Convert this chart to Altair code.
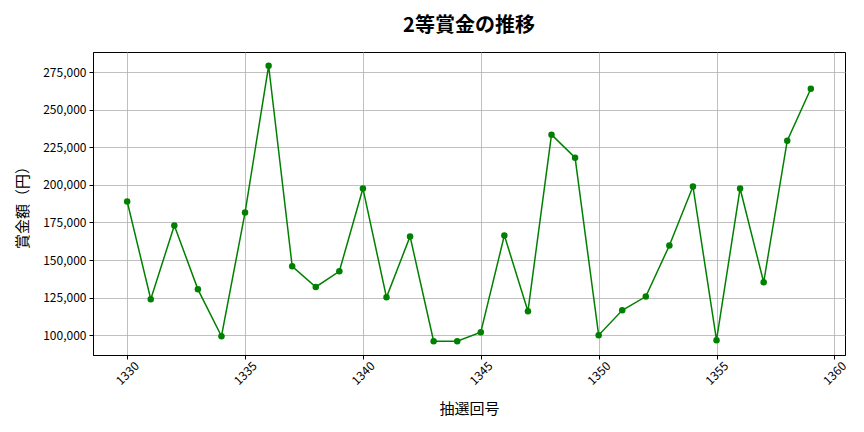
import altair as alt
import pandas as pd

draws = list(range(1330, 1360))
prizes = [188900, 123900, 173000, 130500, 99300, 181600, 279200, 145800, 132100, 142500,
          197600, 125200, 165700, 96000, 96000, 102000, 166400, 115900, 233400, 218100,
          100000, 116600, 125700, 159700, 198900, 96700, 197600, 135200, 229400, 263900]
x_ticks = [1330, 1335, 1340, 1345, 1350, 1355, 1360]
y_ticks = [100000, 125000, 150000, 175000, 200000, 225000, 250000, 275000]

df = pd.DataFrame({"draw": draws, "prize": prizes})
FONT = "Noto Sans CJK JP"

x_enc = alt.X("draw:Q",
              scale=alt.Scale(domain=[1328.55, 1360.45], nice=False, zero=False),
              axis=alt.Axis(title="抽選回号", values=x_ticks, format="d",
                            labelAngle=315, labelAlign="center", labelBaseline="middle",
                            labelPadding=14, tickSize=4, titlePadding=15))
y_enc = alt.Y("prize:Q",
              scale=alt.Scale(domain=[86840, 288360], nice=False, zero=False),
              axis=alt.Axis(title="賞金額（円）", values=y_ticks, format=",d",
                            tickSize=4, labelPadding=3, titlePadding=12))

base = alt.Chart(df).encode(x=x_enc, y=y_enc)
line = base.mark_line(color="#008000", strokeWidth=1.5)
pts = base.mark_circle(color="#008000", size=42, opacity=1)

chart = (line + pts).properties(
    width=752, height=303,
    title=alt.TitleParams("2等賞金の推移", fontSize=20, fontWeight="bold", font=FONT,
                          anchor="middle", offset=16, color="#000000"),
    padding={"left": 85, "top": 44, "right": 11, "bottom": 69},
    autosize=alt.AutoSizeParams(type="none"),
).configure_axis(
    labelFont=FONT, titleFont=FONT, labelFontSize=12, titleFontSize=15,
    titleFontWeight="normal", labelColor="#000000", titleColor="#000000",
    grid=True, gridColor="#b0b0b0", gridWidth=0.8, domainColor="#000000",
    tickColor="#000000", domain=True,
).configure_view(stroke="#000000", strokeWidth=1)

chart.save("out.html", embed_options={"renderer": "svg", "actions": False})
